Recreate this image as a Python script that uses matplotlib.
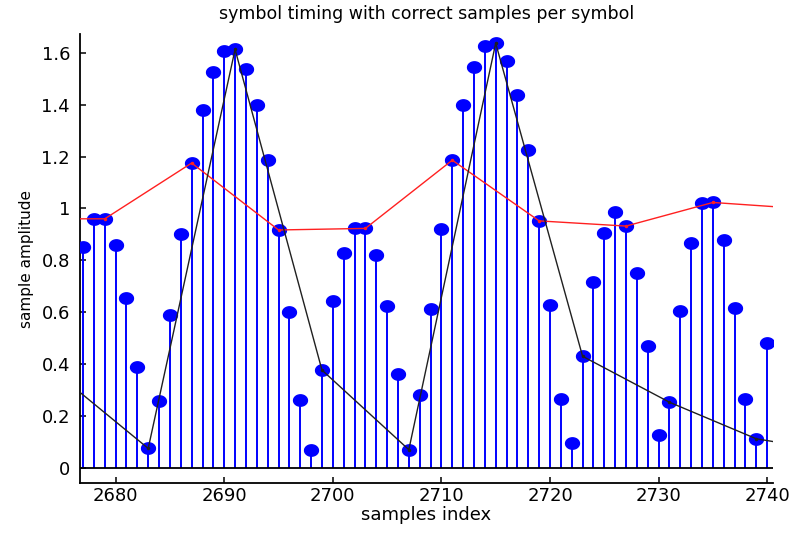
import numpy as np
import matplotlib
matplotlib.use("Agg")
import matplotlib.pyplot as plt
from matplotlib.path import Path

plt.rcParams['font.family'] = ['DejaVu Sans']

# received samples
sample_index = np.arange(2677, 2741)
amplitude = [
    0.85, 0.96, 0.96, 0.86, 0.655, 0.39, 0.075, 0.257,
    0.59, 0.9, 1.175, 1.38, 1.525, 1.607, 1.613, 1.538,
    1.397, 1.186, 0.917, 0.602, 0.26, 0.07, 0.377, 0.642,
    0.828, 0.926, 0.923, 0.82, 0.622, 0.363, 0.07, 0.282,
    0.612, 0.92, 1.186, 1.397, 1.545, 1.628, 1.637, 1.57,
    1.436, 1.224, 0.952, 0.629, 0.266, 0.097, 0.43, 0.715,
    0.904, 0.988, 0.932, 0.752, 0.47, 0.126, 0.253, 0.603,
    0.866, 1.02, 1.023, 0.878, 0.616, 0.267, 0.112, 0.482,
]

# symbol-rate picks (every 8th sample) for two timing phases
sps = 8
red_phase_start, black_phase_start = 2679, 2683
red_edges = (0.96, 1.0)      # neighbouring picks just outside the window
black_edges = (0.35, 0.057)

amp = np.asarray(amplitude)

def picks(start, edges):
    xs = np.arange(start, sample_index[-1] + 1, sps)
    ys = amp[xs - sample_index[0]]
    xs = np.concatenate([[start - sps], xs, [xs[-1] + sps]])
    ys = np.concatenate([[edges[0]], ys, [edges[1]]])
    return xs, ys

red_x, red_y = picks(red_phase_start, red_edges)
black_x, black_y = picks(black_phase_start, black_edges)

# slightly flattened disc marker
t = np.linspace(0, 2 * np.pi, 40)
ellipse = Path(np.column_stack([np.cos(t), 0.82 * np.sin(t)]), closed=True)

fig = plt.figure(figsize=(7.9, 5.33), dpi=100)
ax = fig.add_axes([0.101, 0.094, 0.877, 0.842])

blue = '#0000ff'
ax.vlines(sample_index, 0, amp, color=blue, lw=1.4, zorder=2)
ax.plot(sample_index, amp, ls='none', marker=ellipse, ms=10.0,
        color=blue, mec=blue, zorder=3)
ax.axhline(0, color='black', lw=1.3, zorder=2)

ax.plot(red_x, red_y, color='#ff2020', lw=1.0, marker='.', ms=3, zorder=4)
ax.plot(black_x, black_y, color='#202020', lw=1.0, marker='.', ms=3, zorder=4)

ax.set_xlim(2676.7, 2740.5)
ax.set_ylim(-0.058, 1.672)

for side in ('top', 'right'):
    ax.spines[side].set_visible(False)
for side in ('left', 'bottom'):
    ax.spines[side].set_linewidth(1.3)

xt = np.arange(2680, 2741, 10)
ax.set_xticks(xt)
ax.set_xticklabels([str(v) for v in xt])
yt = np.round(np.arange(0, 1.61, 0.2), 1)
ax.set_yticks(yt)
ax.set_yticklabels(['0' if v == 0 else ('1' if v == 1 else f'{v:g}') for v in yt])
ax.tick_params(direction='in', length=4, width=1.1, labelsize=13)
ax.tick_params(axis='x', pad=3)
ax.tick_params(axis='y', pad=7)

ax.set_xlabel('samples index', fontsize=13, labelpad=1)
ax.set_ylabel('sample amplitude', fontsize=11, labelpad=5)
ax.set_title('symbol timing with correct samples per symbol', fontsize=12.5, pad=11)

fig.savefig('out.png', dpi=100)
